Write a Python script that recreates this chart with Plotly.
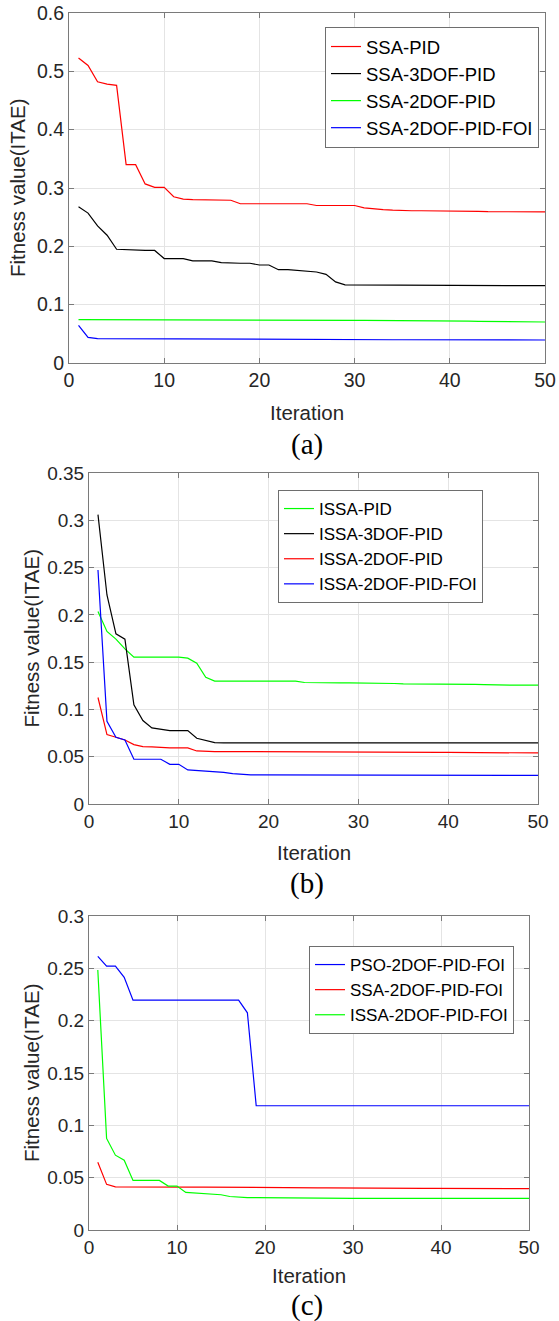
import plotly.graph_objects as go

# ---------------- data ----------------
iterations = list(range(1, 51))

# Panel (a)
a_names = ["SSA-PID", "SSA-3DOF-PID", "SSA-2DOF-PID", "SSA-2DOF-PID-FOI"]
a_ssa_pid = [0.523, 0.510, 0.482, 0.478, 0.476, 0.340, 0.340, 0.307, 0.301, 0.301,
             0.285, 0.281, 0.280, 0.280, 0.279, 0.279, 0.279, 0.273, 0.273, 0.273,
             0.273, 0.273, 0.273, 0.273, 0.273, 0.270, 0.270, 0.270, 0.270, 0.270,
             0.266, 0.264, 0.263, 0.262, 0.261, 0.261, 0.261, 0.261, 0.2605, 0.2605,
             0.260, 0.260, 0.260, 0.2595, 0.2595, 0.2595, 0.259, 0.259, 0.259, 0.259]
a_ssa_3dof = [0.268, 0.257, 0.235, 0.219, 0.195, 0.194, 0.193, 0.193, 0.193, 0.179,
              0.179, 0.179, 0.175, 0.175, 0.175, 0.172, 0.171, 0.171, 0.171, 0.168,
              0.168, 0.160, 0.160, 0.159, 0.157, 0.156, 0.152, 0.139, 0.134, 0.134,
              0.134, 0.1338, 0.1337, 0.1336, 0.1335, 0.1335, 0.1334, 0.1333, 0.1332, 0.1332,
              0.1331, 0.1330, 0.1330, 0.1329, 0.1328, 0.1328, 0.1327, 0.1326, 0.1326, 0.1325]
a_ssa_2dof = [0.0743, 0.0743, 0.0742, 0.0742, 0.0742, 0.0742, 0.0741, 0.0741, 0.0741, 0.0741,
              0.0740, 0.0740, 0.0740, 0.0740, 0.0740, 0.0740, 0.0740, 0.0740, 0.0740, 0.0740,
              0.0738, 0.0736, 0.0735, 0.0734, 0.0733, 0.0733, 0.0732, 0.0732, 0.0731, 0.0731,
              0.0730, 0.0730, 0.0729, 0.0728, 0.0727, 0.0726, 0.0725, 0.0724, 0.0723, 0.0722,
              0.0720, 0.0718, 0.0715, 0.0712, 0.0710, 0.0708, 0.0706, 0.0705, 0.0704, 0.0703]
a_ssa_2dof_foi = [0.0645, 0.0440, 0.0418, 0.0417, 0.0416, 0.0415, 0.0414, 0.0413, 0.0412, 0.0411,
                  0.0410, 0.0410, 0.0409, 0.0409, 0.0408, 0.0408, 0.0407, 0.0407, 0.0406, 0.0406,
                  0.0405, 0.0405, 0.0404, 0.0404, 0.0403, 0.0403, 0.0402, 0.0401, 0.0400, 0.0400,
                  0.0400, 0.0400, 0.0399, 0.0399, 0.0399, 0.0398, 0.0398, 0.0398, 0.0397, 0.0397,
                  0.0397, 0.0396, 0.0396, 0.0396, 0.0395, 0.0395, 0.0395, 0.0395, 0.0394, 0.0394]

# Panel (b)
b_names = ["ISSA-PID", "ISSA-3DOF-PID", "ISSA-2DOF-PID", "ISSA-2DOF-PID-FOI"]
b_issa_pid = [0.2035, 0.1824, 0.1743, 0.1640, 0.1553, 0.1553, 0.1553, 0.1553, 0.1553, 0.1553,
              0.1542, 0.1489, 0.1340, 0.1299, 0.1299, 0.1299, 0.1299, 0.1299, 0.1299, 0.1299,
              0.1299, 0.1299, 0.1299, 0.1285, 0.1282, 0.1280, 0.1280, 0.1280, 0.1280, 0.1280,
              0.1278, 0.1275, 0.1275, 0.1274, 0.1270, 0.1270, 0.1270, 0.1270, 0.1269, 0.1267,
              0.1267, 0.1266, 0.1265, 0.1262, 0.1258, 0.1257, 0.1256, 0.1256, 0.1256, 0.1256]
b_issa_3dof = [0.3060, 0.2210, 0.1800, 0.1743, 0.1048, 0.0882, 0.0805, 0.0787, 0.0776, 0.0776,
               0.0776, 0.0695, 0.0674, 0.0650, 0.0647, 0.0647, 0.0647, 0.0647, 0.0647, 0.0647,
               0.0647, 0.0647, 0.0647, 0.0647, 0.0647, 0.0647, 0.0647, 0.0647, 0.0647, 0.0647,
               0.0647, 0.0647, 0.0647, 0.0647, 0.0647, 0.0647, 0.0647, 0.0647, 0.0647, 0.0647,
               0.0647, 0.0647, 0.0647, 0.0647, 0.0647, 0.0647, 0.0647, 0.0647, 0.0647, 0.0647]
b_issa_2dof = [0.1126, 0.0734, 0.0706, 0.0677, 0.0628, 0.0607, 0.0603, 0.0596, 0.0593, 0.0593,
               0.0593, 0.0561, 0.0554, 0.0554, 0.0554, 0.0554, 0.0554, 0.0554, 0.0554, 0.0554,
               0.0554, 0.0554, 0.0554, 0.0554, 0.0554, 0.0554, 0.0554, 0.0554, 0.0554, 0.0554,
               0.0554, 0.0554, 0.0553, 0.0552, 0.0548, 0.0547, 0.0547, 0.0547, 0.0546, 0.0545,
               0.0544, 0.0543, 0.0542, 0.0541, 0.0540, 0.0540, 0.0540, 0.0540, 0.0540, 0.0540]
b_issa_2dof_foi = [0.2475, 0.0875, 0.0706, 0.0677, 0.0473, 0.0473, 0.0473, 0.0473, 0.0420, 0.0420,
                   0.0360, 0.0353, 0.0353, 0.0339, 0.0335, 0.0321, 0.0310, 0.0307, 0.0307, 0.0307,
                   0.0307, 0.0306, 0.0304, 0.0303, 0.0303, 0.0303, 0.0303, 0.0303, 0.0303, 0.0303,
                   0.0303, 0.0303, 0.0303, 0.0303, 0.0303, 0.0303, 0.0303, 0.0303, 0.0303, 0.0303,
                   0.0303, 0.0303, 0.0303, 0.0303, 0.0303, 0.0303, 0.0303, 0.0303, 0.0303, 0.0303]

# Panel (c)
c_names = ["PSO-2DOF-PID-FOI", "SSA-2DOF-PID-FOI", "ISSA-2DOF-PID-FOI"]
c_pso = [0.2615, 0.2522, 0.2522, 0.2414, 0.2196, 0.2196, 0.2196, 0.2196, 0.2196, 0.2196,
         0.2196, 0.2196, 0.2196, 0.2196, 0.2196, 0.2196, 0.2196, 0.2075, 0.1187, 0.1187,
         0.1187, 0.1187, 0.1187, 0.1187, 0.1187, 0.1187, 0.1187, 0.1187, 0.1187, 0.1187,
         0.1187, 0.1187, 0.1187, 0.1187, 0.1187, 0.1187, 0.1187, 0.1187, 0.1187, 0.1187,
         0.1187, 0.1187, 0.1187, 0.1187, 0.1187, 0.1187, 0.1187, 0.1187, 0.1187, 0.1187]
c_ssa = [0.0647, 0.0436, 0.0412, 0.0411, 0.0411, 0.0411, 0.0411, 0.0410, 0.0410, 0.0410,
         0.0410, 0.0410, 0.0410, 0.0410, 0.0410, 0.0410, 0.0409, 0.0409, 0.0408, 0.0408,
         0.0407, 0.0406, 0.0405, 0.0405, 0.0404, 0.0403, 0.0402, 0.0401, 0.0400, 0.0400,
         0.0399, 0.0399, 0.0398, 0.0398, 0.0398, 0.0397, 0.0397, 0.0397, 0.0397, 0.0396,
         0.0396, 0.0396, 0.0396, 0.0396, 0.0395, 0.0395, 0.0395, 0.0395, 0.0395, 0.0395]
c_issa = [0.2484, 0.0875, 0.0715, 0.0667, 0.0474, 0.0474, 0.0474, 0.0474, 0.0420, 0.0420,
          0.0359, 0.0353, 0.0353, 0.0340, 0.0337, 0.0320, 0.0314, 0.0310, 0.0310, 0.0309,
          0.0308, 0.0306, 0.0304, 0.0304, 0.0304, 0.0304, 0.0304, 0.0304, 0.0303, 0.0303,
          0.0303, 0.0303, 0.0303, 0.0303, 0.0303, 0.0303, 0.0303, 0.0303, 0.0303, 0.0303,
          0.0303, 0.0303, 0.0303, 0.0303, 0.0303, 0.0303, 0.0303, 0.0303, 0.0303, 0.0303]

# ticks
x_tickvals = [0, 10, 20, 30, 40, 50]
x_ticktext = ["0", "10", "20", "30", "40", "50"]
a_tickvals = [0, 0.1, 0.2, 0.3, 0.4, 0.5, 0.6]
a_ticktext = ["0", "0.1", "0.2", "0.3", "0.4", "0.5", "0.6"]
b_tickvals = [0, 0.05, 0.1, 0.15, 0.2, 0.25, 0.3, 0.35]
b_ticktext = ["0", "0.05", "0.1", "0.15", "0.2", "0.25", "0.3", "0.35"]
c_tickvals = [0, 0.05, 0.1, 0.15, 0.2, 0.25, 0.3]
c_ticktext = ["0", "0.05", "0.1", "0.15", "0.2", "0.25", "0.3"]

panel_labels = ["(a)", "(b)", "(c)"]
x_title = "Iteration"
y_title = "Fitness value(ITAE)"

# ---------------- styles ----------------
W, H = 559, 1321
RED, BLACK, GREEN, BLUE = "#ff0000", "#000000", "#00ff00", "#0000ff"
SANS = "Liberation Sans, Arial, sans-serif"
SERIF = "Liberation Serif, Times New Roman, serif"
TXT = "#262626"
AXC = "#7a7a7a"
GRID = "#e4e4e4"
LW = 1.2


def px_x(p):
    return p / W


def px_y(p):
    return 1 - p / H


fig = go.Figure()

series = [
    (a_names, [a_ssa_pid, a_ssa_3dof, a_ssa_2dof, a_ssa_2dof_foi], [RED, BLACK, GREEN, BLUE], "x", "y", "legend"),
    (b_names, [b_issa_pid, b_issa_3dof, b_issa_2dof, b_issa_2dof_foi], [GREEN, BLACK, RED, BLUE], "x2", "y2", "legend2"),
    (c_names, [c_pso, c_ssa, c_issa], [BLUE, RED, GREEN], "x3", "y3", "legend3"),
]
for names, vals, cols, xa, ya, lg in series:
    for n, v, c in zip(names, vals, cols):
        fig.add_trace(go.Scatter(x=iterations, y=v, name=n, mode="lines",
                                 line=dict(color=c, width=LW),
                                 xaxis=xa, yaxis=ya, legend=lg))

# panel geometry in pixels: (left, right, top, bottom)
geo = [(69, 545, 13, 363), (89, 538, 473, 804), (89, 529, 916, 1230)]
yticks = [(a_tickvals, a_ticktext, 0.6), (b_tickvals, b_ticktext, 0.35), (c_tickvals, c_ticktext, 0.3)]
tick_sizes = [19.5, 19, 19]

axis_common = dict(showline=True, linecolor=AXC, linewidth=1, mirror="ticks",
                   ticks="inside", ticklen=5, tickcolor=AXC, tickwidth=1,
                   showgrid=True, gridcolor=GRID, gridwidth=1, zeroline=False,
                   automargin=False)

layout = {}
for i, ((l, r, t, b), (tv, tt, ymax), fs) in enumerate(zip(geo, yticks, tick_sizes)):
    sfx = "" if i == 0 else str(i + 1)
    layout["xaxis" + sfx] = dict(domain=[px_x(l), px_x(r)], anchor="y" + sfx, range=[0, 50],
                                 tickvals=x_tickvals, ticktext=x_ticktext,
                                 tickfont=dict(family=SANS, size=fs, color=TXT), **axis_common)
    layout["yaxis" + sfx] = dict(domain=[px_y(b), px_y(t)], anchor="x" + sfx, range=[0, ymax],
                                 tickvals=tv, ticktext=tt,
                                 tickfont=dict(family=SANS, size=fs, color=TXT), **axis_common)

legend_common = dict(xanchor="left", yanchor="top", bgcolor="white", bordercolor="#6e6e6e",
                     borderwidth=1, itemwidth=30, tracegroupgap=0)
layout["legend"] = dict(x=px_x(325), y=px_y(27), font=dict(family=SANS, size=18.5, color="#000000"), **legend_common)
layout["legend2"] = dict(x=px_x(278), y=px_y(490), font=dict(family=SANS, size=17, color="#000000"), **legend_common)
layout["legend3"] = dict(x=px_x(309), y=px_y(946), font=dict(family=SANS, size=17, color="#000000"), **legend_common)

annotations = []
ytitle_pos = [(18, 188), (31, 638.5), (31, 1073)]
xtitle_pos = [(307, 412), (314, 852), (309, 1275)]
label_pos = [(307, 444), (307, 883), (307, 1305)]
for (yx, yy), (xx, xy), (lx, ly), lab in zip(ytitle_pos, xtitle_pos, label_pos, panel_labels):
    annotations.append(dict(text=y_title, x=px_x(yx), y=px_y(yy), xref="paper", yref="paper",
                            textangle=-90, showarrow=False, xanchor="center", yanchor="middle",
                            font=dict(family=SANS, size=20.5, color=TXT)))
    annotations.append(dict(text=x_title, x=px_x(xx), y=px_y(xy), xref="paper", yref="paper",
                            showarrow=False, xanchor="center", yanchor="middle",
                            font=dict(family=SANS, size=20.5, color=TXT)))
    annotations.append(dict(text=lab, x=px_x(lx), y=px_y(ly), xref="paper", yref="paper",
                            showarrow=False, xanchor="center", yanchor="middle",
                            font=dict(family=SERIF, size=29, color="#000000")))

fig.update_layout(width=W, height=H, autosize=False,
                  margin=dict(l=0, r=0, t=0, b=0, pad=0),
                  paper_bgcolor="white", plot_bgcolor="white",
                  showlegend=True, annotations=annotations, **layout)

fig.write_html("out.html", config={"displayModeBar": False},
               post_script="document.body.style.margin='0';document.body.style.overflow='hidden';")
